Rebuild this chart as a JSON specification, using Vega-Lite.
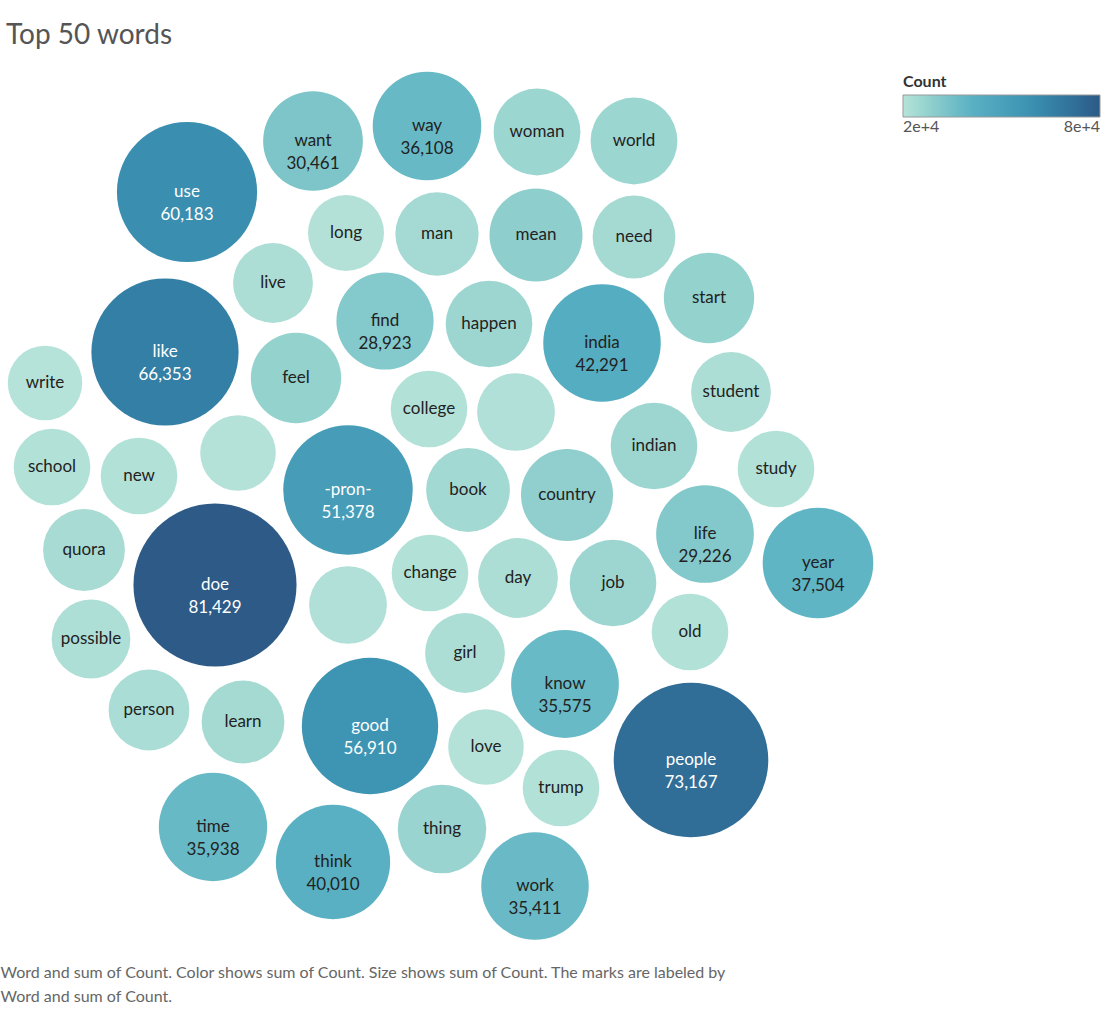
{
"$schema":"https://vega.github.io/schema/vega-lite/v6.json",
"width":1108,"height":892,
"autosize":{"type":"none"},
"padding":{"top":60,"left":0,"right":0,"bottom":60},
"background":"white",
"config":{"view":{"stroke":null},"font":"Lato"},
"title":{"text":"Top 50 words","anchor":"start","fontSize":28,"fontWeight":"normal","color":"#555555","offset":10,"dx":6},
"data":{"values":[
{"word":"use","x":187,"y":192,"count":60183,"label":"use\n60,183"},
{"word":"want","x":313,"y":141,"count":30461,"label":"want\n30,461"},
{"word":"way","x":427,"y":126,"count":36108,"label":"way\n36,108"},
{"word":"woman","x":537,"y":132,"count":23100,"label":"woman"},
{"word":"world","x":634,"y":141,"count":23100,"label":"world"},
{"word":"long","x":346,"y":233,"count":17700,"label":"long"},
{"word":"man","x":437,"y":234,"count":21250,"label":"man"},
{"word":"mean","x":536,"y":235,"count":26500,"label":"mean"},
{"word":"need","x":634,"y":237,"count":21000,"label":"need"},
{"word":"live","x":273,"y":283,"count":19500,"label":"live"},
{"word":"find","x":385,"y":321,"count":28923,"label":"find\n28,923"},
{"word":"happen","x":489,"y":324,"count":23000,"label":"happen"},
{"word":"india","x":602,"y":343,"count":42291,"label":"india\n42,291"},
{"word":"start","x":709,"y":298,"count":25000,"label":"start"},
{"word":"like","x":165,"y":352,"count":66353,"label":"like\n66,353"},
{"word":"feel","x":296,"y":378,"count":25000,"label":"feel"},
{"word":"write","x":45,"y":383,"count":16991,"label":"write"},
{"word":"student","x":731,"y":392,"count":19500,"label":"student"},
{"word":"college","x":429,"y":409,"count":18000,"label":"college"},
{"word":"","x":516,"y":412,"count":18500,"label":""},
{"word":"indian","x":654,"y":446,"count":23000,"label":"indian"},
{"word":"study","x":776,"y":469,"count":18000,"label":"study"},
{"word":"school","x":52,"y":467,"count":18000,"label":"school"},
{"word":"new","x":139,"y":476,"count":18000,"label":"new"},
{"word":" ","x":238,"y":453,"count":17500,"label":""},
{"word":"-pron-","x":348,"y":490,"count":51378,"label":"-pron-\n51,378"},
{"word":"book","x":468,"y":490,"count":21500,"label":"book"},
{"word":"country","x":567,"y":495,"count":26000,"label":"country"},
{"word":"life","x":705,"y":534,"count":29226,"label":"life\n29,226"},
{"word":"year","x":818,"y":563,"count":37504,"label":"year\n37,504"},
{"word":"quora","x":84,"y":550,"count":20500,"label":"quora"},
{"word":"doe","x":215,"y":585,"count":81429,"label":"doe\n81,429"},
{"word":"  ","x":348,"y":605,"count":18500,"label":""},
{"word":"change","x":430,"y":573,"count":18000,"label":"change"},
{"word":"day","x":518,"y":578,"count":19500,"label":"day"},
{"word":"job","x":613,"y":583,"count":23000,"label":"job"},
{"word":"old","x":690,"y":632,"count":18000,"label":"old"},
{"word":"possible","x":91,"y":639,"count":19000,"label":"possible"},
{"word":"girl","x":465,"y":653,"count":19500,"label":"girl"},
{"word":"know","x":565,"y":684,"count":35575,"label":"know\n35,575"},
{"word":"person","x":149,"y":710,"count":20000,"label":"person"},
{"word":"learn","x":243,"y":722,"count":21000,"label":"learn"},
{"word":"good","x":370,"y":726,"count":56910,"label":"good\n56,910"},
{"word":"love","x":486,"y":747,"count":17500,"label":"love"},
{"word":"trump","x":561,"y":788,"count":18000,"label":"trump"},
{"word":"people","x":691,"y":760,"count":73167,"label":"people\n73,167"},
{"word":"time","x":213,"y":827,"count":35938,"label":"time\n35,938"},
{"word":"think","x":333,"y":862,"count":40010,"label":"think\n40,010"},
{"word":"thing","x":442,"y":829,"count":24000,"label":"thing"},
{"word":"work","x":535,"y":886,"count":35411,"label":"work\n35,411"}
]},
"encoding":{
"x":{"field":"x","type":"quantitative","scale":{"domain":[0,1108],"nice":false,"zero":false},
 "axis":{"labels":false,"ticks":false,"domain":false,"grid":false,"title":["Word and sum of Count.  Color shows sum of Count.  Size shows sum of Count.  The marks are labeled by","Word and sum of Count."],"titleAnchor":"start","titleAlign":"left","titleX":0,"titleFontSize":16,"titleFontWeight":"normal","titleColor":"#666666","titlePadding":12,"titleLineHeight":24}},
"y":{"field":"y","type":"quantitative","scale":{"domain":[60,952],"reverse":true,"nice":false,"zero":false},"axis":null}
},
"layer":[
{"mark":{"type":"circle","opacity":1},
 "encoding":{
  "size":{"field":"count","type":"quantitative","scale":{"type":"linear","domain":[0,81429],"range":[0,26590],"zero":true},"legend":null},
  "color":{"field":"count","type":"quantitative","scale":{"domain":[16991,81429],"range":["#b6e3d9","#5cb3c4","#3a8fb0","#2d5a86"]},
   "legend":{"orient":"none","legendX":903,"legendY":14,"direction":"horizontal","gradientLength":197,"gradientThickness":22,"values":[16991,81429],"format":",","title":"Count","titleFontSize":16,"titleColor":"#333","labelFontSize":16,"labelColor":"#555","gradientStrokeColor":"#999","gradientStrokeWidth":1}}
 }},
{"mark":{"type":"text","fontSize":17,"lineBreak":"\n","lineHeight":23,"baseline":"middle"},
 "encoding":{"text":{"field":"label"},
  "color":{"condition":{"test":"datum.count>50000","value":"white"},"value":"#222222"}}}
]
}
